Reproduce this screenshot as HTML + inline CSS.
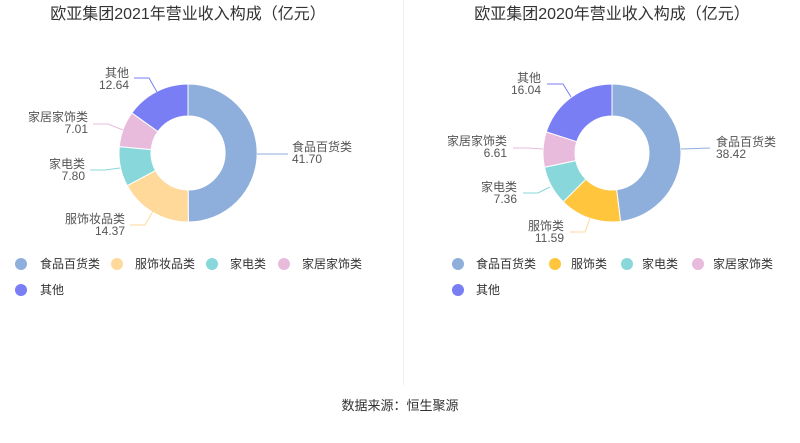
<!DOCTYPE html>
<html><head><meta charset="utf-8"><style>
body{margin:0;background:#fff;}
svg text{font-family:"Liberation Sans","Noto Sans CJK SC",sans-serif;}
</style></head><body>
<svg id="s" width="800" height="438" xmlns="http://www.w3.org/2000/svg">
<line x1="403.5" y1="0" x2="403.5" y2="385" stroke="#eeeeee"/>
<text x="188" y="19" font-size="16" fill="#333" text-anchor="middle">欧亚集团2021年营业收入构成（亿元）</text>
<text x="612" y="19" font-size="16" fill="#333" text-anchor="middle">欧亚集团2020年营业收入构成（亿元）</text>
<g id="arcs"></g>
<g fill="none" stroke-width="1">
<polyline points="257,154 288,154" stroke="#8eaedb"/>
<polyline points="153,211 145,225 130,225" stroke="#ffd99a"/>
<polyline points="120,168 105,170 90,170" stroke="#88d8db"/>
<polyline points="123,130 108,124 93,124" stroke="#e8bbdc"/>
<polyline points="157,92 149,78 134,78" stroke="#7a7ef5"/>
<polyline points="681,149 710,148" stroke="#8eaedb"/>
<polyline points="590,218 585,232 570,232" stroke="#ffd99a"/>
<polyline points="550,187 538,193 523,193" stroke="#88d8db"/>
<polyline points="543,149 528,148 513,148" stroke="#e8bbdc"/>
<polyline points="571,97 563,84 547,84" stroke="#7a7ef5"/>
</g>
<g font-size="12" fill="#555">
<text x="292" y="151">食品百货类</text><text x="292" y="163">41.70</text>
<text x="125" y="223" text-anchor="end">服饰妆品类</text><text x="125" y="235" text-anchor="end">14.37</text>
<text x="85" y="168" text-anchor="end">家电类</text><text x="85" y="180" text-anchor="end">7.80</text>
<text x="88" y="121" text-anchor="end">家居家饰类</text><text x="88" y="133" text-anchor="end">7.01</text>
<text x="129" y="77" text-anchor="end">其他</text><text x="129" y="89" text-anchor="end">12.64</text>
<text x="716" y="146">食品百货类</text><text x="716" y="158">38.42</text>
<text x="564" y="230" text-anchor="end">服饰类</text><text x="564" y="242" text-anchor="end">11.59</text>
<text x="517" y="191" text-anchor="end">家电类</text><text x="517" y="203" text-anchor="end">7.36</text>
<text x="507" y="145" text-anchor="end">家居家饰类</text><text x="507" y="157" text-anchor="end">6.61</text>
<text x="541" y="82" text-anchor="end">其他</text><text x="541" y="94" text-anchor="end">16.04</text>
</g>
<g font-size="12" fill="#333">
<circle cx="21" cy="264" r="6" fill="#8eaedb"/><text x="40" y="268">食品百货类</text>
<circle cx="117" cy="264" r="6" fill="#ffd99a"/><text x="135" y="268">服饰妆品类</text>
<circle cx="212" cy="264" r="6" fill="#88d8db"/><text x="230" y="268">家电类</text>
<circle cx="284" cy="264" r="6" fill="#e8bbdc"/><text x="302" y="268">家居家饰类</text>
<circle cx="21" cy="290" r="6" fill="#7a7ef5"/><text x="40" y="294">其他</text>
<circle cx="458" cy="264" r="6" fill="#8eaedb"/><text x="476" y="268">食品百货类</text>
<circle cx="555" cy="264" r="6" fill="#ffc53d"/><text x="571" y="268">服饰类</text>
<circle cx="627" cy="264" r="6" fill="#88d8db"/><text x="642" y="268">家电类</text>
<circle cx="698" cy="264" r="6" fill="#e8bbdc"/><text x="713" y="268">家居家饰类</text>
<circle cx="458" cy="290" r="6" fill="#7a7ef5"/><text x="476" y="294">其他</text>
</g>
<text x="400" y="410" font-size="13" fill="#333" text-anchor="middle">数据来源：恒生聚源</text>
</svg>
<script>
function donut(cx,cy,vals,cols){
 var g=document.getElementById('arcs'),t=vals.reduce((a,b)=>a+b,0),a=0,R=69,r=37,h='';
 vals.forEach(function(v,i){
  var a2=a+v/t*2*Math.PI,l=(a2-a)>Math.PI?1:0;
  function p(rr,an){return [cx+rr*Math.sin(an),cy-rr*Math.cos(an)].map(x=>x.toFixed(2)).join(',');}
  h+='<path d="M'+p(R,a)+'A'+R+','+R+' 0 '+l+' 1 '+p(R,a2)+'L'+p(r,a2)+'A'+r+','+r+' 0 '+l+' 0 '+p(r,a)+'Z" fill="'+cols[i]+'" stroke="#fff" stroke-width="1"/>';
  a=a2;});
 g.insertAdjacentHTML('beforeend',h);
}
donut(188,153,[41.70,14.37,7.80,7.01,12.64],['#8eaedb','#ffd99a','#88d8db','#e8bbdc','#7a7ef5']);
donut(612,153,[38.42,11.59,7.36,6.61,16.04],['#8eaedb','#ffc53d','#88d8db','#e8bbdc','#7a7ef5']);
</script>
</body></html>
